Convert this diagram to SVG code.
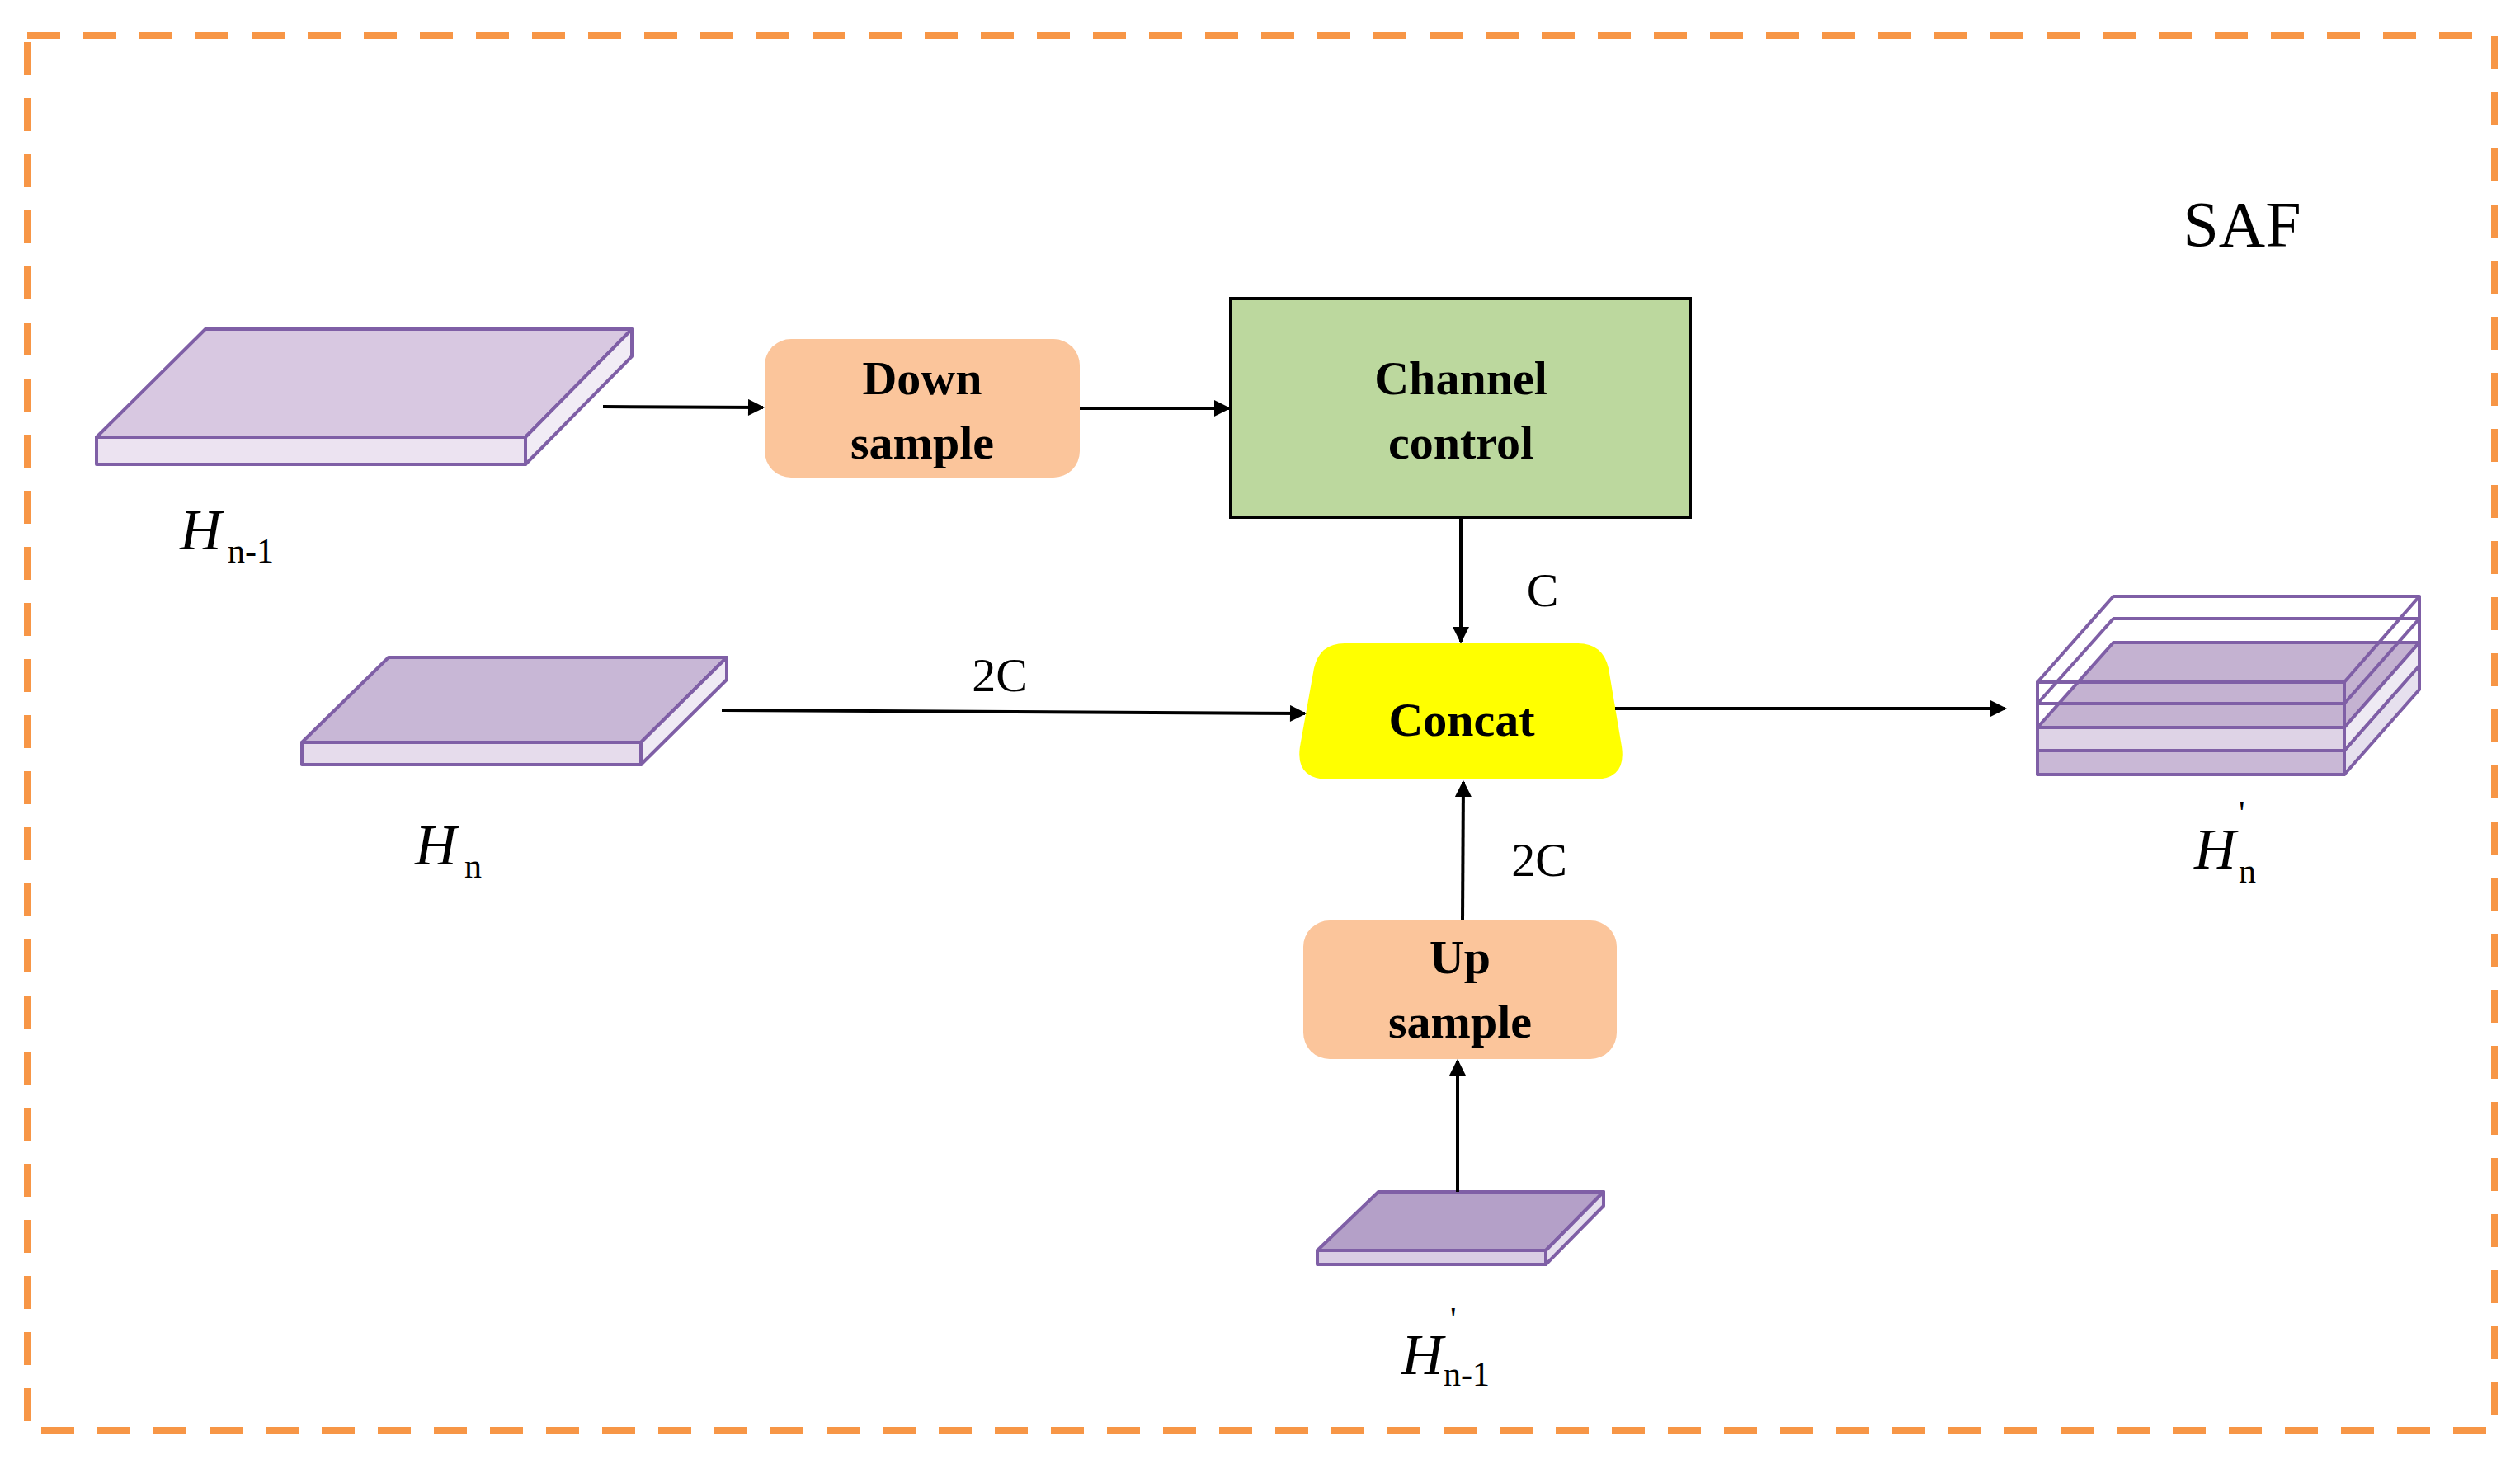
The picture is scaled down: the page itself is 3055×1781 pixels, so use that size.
<svg xmlns="http://www.w3.org/2000/svg" width="3055" height="1781" viewBox="0 0 3055 1781">
<style>
.lbl{font-family:"Liberation Serif",serif;font-weight:bold;font-size:58px;fill:#000;text-anchor:middle}
.t{font-family:"Liberation Serif",serif;fill:#000}
.it{font-style:italic;font-size:70px}
.sub{font-size:42px}
.cn{stroke:#000;stroke-width:4;fill:none;marker-end:url(#ah)}
.sl{stroke:#7f5fa6;stroke-width:4;stroke-linejoin:round}
</style>
<defs>
<marker id="ah" viewBox="0 0 10 10" refX="9" refY="5" markerWidth="6" markerHeight="5" orient="auto" markerUnits="strokeWidth"><path d="M0,0L10,5L0,10z" fill="#000"/></marker>
</defs>
<rect width="3055" height="1781" fill="#fff"/>
<rect x="33" y="43" width="2991" height="1691" fill="none" stroke="#f79646" stroke-width="8" stroke-dasharray="40,28"/>
<text class="t" x="2718" y="298" font-size="78" text-anchor="middle">SAF</text>

<g id="Hn1">
<polygon class="sl" points="117,530 249,399 766,399 637,530" fill="#d8c8e1"/>
<rect class="sl" x="117" y="530" width="520" height="33" fill="#ece3f1"/>
<polygon class="sl" points="637,530 766,399 766,432 637,563" fill="#f1ecf5"/>
<text class="t it" x="218" y="666">H</text><text class="t sub" x="276" y="682">n-1</text>
</g>
<g id="Hn">
<polygon class="sl" points="366,900 471,797 881,797 777,900" fill="#c8b7d6"/>
<rect class="sl" x="366" y="900" width="411" height="27" fill="#e6dcec"/>
<polygon class="sl" points="777,900 881,797 881,824 777,927" fill="#efeaf4"/>
<text class="t it" x="503" y="1048">H</text><text class="t sub" x="563" y="1064">n</text>
</g>
<g id="Hn1p">
<polygon class="sl" points="1597,1516 1671,1445 1944,1445 1874,1516" fill="#b4a0c8"/>
<rect class="sl" x="1597" y="1516" width="277" height="17" fill="#d9cde4"/>
<polygon class="sl" points="1874,1516 1944,1445 1944,1462 1874,1533" fill="#e6e0ee"/>
<text class="t it" x="1699" y="1666">H</text><text class="t sub" x="1758" y="1614">'</text><text class="t sub" x="1750" y="1680">n-1</text>
</g>
<g id="down">
<rect x="927" y="411" width="382" height="168" rx="32" fill="#fbc59b"/>
<text class="lbl" x="1118" y="478">Down</text><text class="lbl" x="1118" y="556">sample</text>
</g>
<g id="channel">
<rect x="1492" y="362" width="557" height="265" fill="#bcd89e" stroke="#000" stroke-width="4"/>
<text class="lbl" x="1771" y="478">Channel</text><text class="lbl" x="1771" y="556">control</text>
</g>
<g id="concat">
<path d="M1630,780 L1913,780 Q1943,780 1950,810 L1966,905 Q1972,945 1932,945 L1612,945 Q1570,945 1576,905 L1593,810 Q1600,780 1630,780 Z" fill="#ffff00"/>
<text class="lbl" x="1772" y="892" font-size="60">Concat</text>
</g>
<g id="up">
<rect x="1580" y="1116" width="380" height="168" rx="32" fill="#fbc59b"/>
<text class="lbl" x="1770" y="1180">Up</text><text class="lbl" x="1770" y="1258">sample</text>
</g>
<g id="Hnp">
<polygon class="sl" points="2470,910 2562,807 2933,807 2842,910" fill="#c9b8d6"/>
<rect class="sl" x="2470" y="910" width="372" height="29" fill="#c9b8d6"/>
<polygon class="sl" points="2842,910 2933,807 2933,836 2842,939" fill="#e6e0ee"/>
<polygon class="sl" points="2470,882 2562,779 2933,779 2842,882" fill="#c4b2d1"/>
<rect class="sl" x="2470" y="882" width="372" height="28" fill="#ded3e6"/>
<polygon class="sl" points="2842,882 2933,779 2933,807 2842,910" fill="#eeeaf3"/>
<g fill="none" class="sl">
<polygon points="2470,827 2562,723 2933,723 2842,827"/>
<rect x="2470" y="827" width="372" height="26"/>
<line x1="2933" y1="723" x2="2933" y2="779"/>
<line x1="2842" y1="853" x2="2933" y2="750"/>
<line x1="2470" y1="853" x2="2562" y2="750"/>
<line x1="2562" y1="750" x2="2933" y2="750"/>
<rect x="2470" y="853" width="372" height="29"/>
</g>
<text class="t it" x="2660" y="1053">H</text><text class="t sub" x="2714" y="1000">'</text><text class="t sub" x="2714" y="1070">n</text>
</g>
<g id="connectors">
<line class="cn" x1="731" y1="493" x2="925" y2="494"/>
<line class="cn" x1="1309" y1="495" x2="1490" y2="495"/>
<line class="cn" x1="1771" y1="627" x2="1771" y2="778"/>
<line class="cn" x1="875" y1="861" x2="1582" y2="865"/>
<line class="cn" x1="1958" y1="859" x2="2431" y2="859"/>
<line class="cn" x1="1773" y1="1116" x2="1774" y2="948"/>
<line class="cn" x1="1767" y1="1445" x2="1767" y2="1286"/>
<text class="t" x="1870" y="735" font-size="58" text-anchor="middle">C</text>
<text class="t" x="1212" y="838" font-size="58" text-anchor="middle">2C</text>
<text class="t" x="1866" y="1062" font-size="58" text-anchor="middle">2C</text>
</g>
</svg>
